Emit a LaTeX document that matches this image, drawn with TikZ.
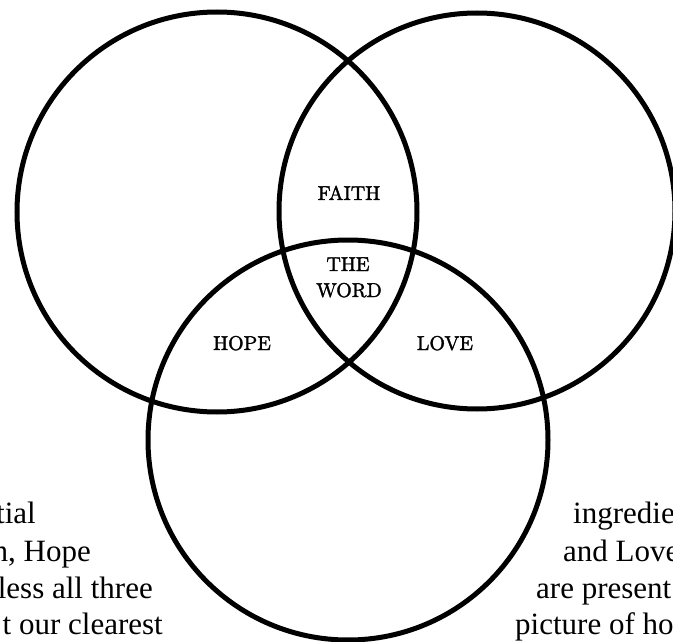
\documentclass[tikz,border=0pt]{standalone}
\usepackage{fontspec}
\newfontfamily\bodyfont{Liberation Serif}
\newfontfamily\lblfont[FakeBold=1.6]{lmroman10-regular.otf}
\tikzset{
  ring/.style={draw=black, line width=5pt},
  lbl/.style={font=\lblfont\fontsize{20}{22}\selectfont, anchor=base, inner sep=0pt},
  txtR/.style={font=\bodyfont\fontsize{31}{37}\selectfont, anchor=base east, inner sep=0pt},
  txtL/.style={font=\bodyfont\fontsize{31}{37}\selectfont, anchor=base west, inner sep=0pt},
}
\begin{document}
\begin{tikzpicture}[x=1pt,y=-1pt]
\useasboundingbox (0,0) rectangle (673,642);
\clip (0,0) rectangle (673,642);
\fill[white] (0,0) rectangle (673,642);
\coordinate (cL) at (217,212);
\coordinate (cR) at (477,211);
\coordinate (cB) at (348,440);
\draw[ring] (cL) circle[radius=200];
\draw[ring] (cR) circle[radius=198];
\draw[ring] (cB) circle[radius=200];
\node[lbl] (faith) at (349,200) {FAITH};
\node[lbl] (the) at (348,271) {THE};
\node[lbl] (word) at (349,297) {WORD};
\node[lbl] (hope) at (242,350) {HOPE};
\node[lbl] (love) at (445,350) {LOVE};
\node[txtR] (l1) at (36,523) {tial};
\node[txtR] (l2) at (91,561) {h, Hope};
\node[txtR] (l3) at (153,598) {less all three};
\node[txtR] (l4) at (163,634) {t our clearest};
\node[txtL] (r1) at (573,523) {ingredie};
\node[txtL] (r2) at (563,561) {and Love};
\node[txtL] (r3) at (536,598) {are present};
\node[txtL] (r4) at (515,634) {picture of ho};
\end{tikzpicture}
\end{document}
